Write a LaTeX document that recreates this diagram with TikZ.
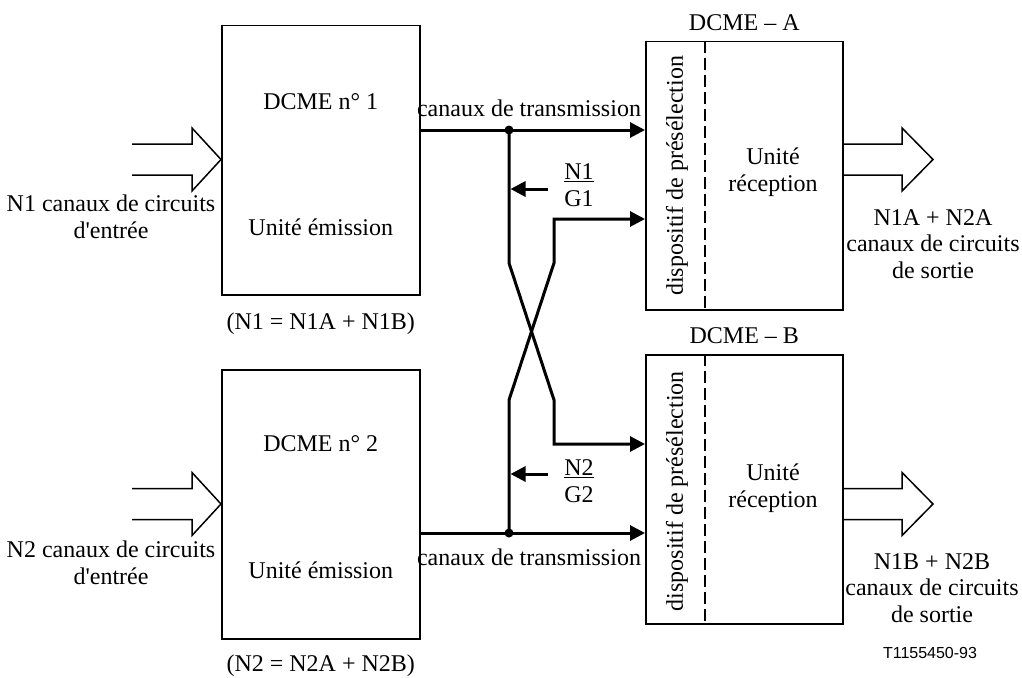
\documentclass[tikz,border=0pt]{standalone}
\usepackage{fontspec}
\setmainfont{Liberation Serif}[Ligatures=TeXOff]
\newfontfamily\figtagfont{Liberation Sans}
\usetikzlibrary{arrows.meta, positioning, calc}

\begin{document}
\begin{tikzpicture}[
  x=1pt, y=-1pt,
  font=\fontsize{24}{26.5}\selectfont,
  unit/.style={
    draw,
    line width=1.5pt,
    anchor=north west,
    minimum width=198pt,
    minimum height=269pt,
    inner sep=0pt
  },
  lbl/.style={align=center, inner sep=0pt},
  arr/.style={-{Triangle[length=15pt, width=15pt]}, line width=3pt},
  fat/.style={line width=1.5pt, miter limit=20},
  sep/.style={line width=2.5pt, dash pattern=on 12pt off 5pt},
  junction/.style={circle, fill, inner sep=0pt, minimum size=9pt},
]
\useasboundingbox (0,0) rectangle (1022,677);

% emission units
\node[unit] (emit1) at (221,25) {};
\node[unit] (emit2) at (221,369) {};
\node[lbl] (name1) at ($(emit1.north)+(0,77)$) {DCME n° 1};
\node[lbl] (role1) at ($(emit1.north)+(0,202)$) {Unité émission};
\node[lbl] (name2) at ($(emit2.north)+(0,75)$) {DCME n° 2};
\node[lbl] (role2) at ($(emit2.north)+(0,201)$) {Unité émission};
\node[lbl, below=17pt of emit1] (mix1) {(N1 = N1A + N1B)};
\node[lbl, below=15pt of emit2] (mix2) {(N2 = N2A + N2B)};

% reception units
\node[unit, minimum width=197pt, minimum height=268pt] (recvA) at (645,41) {};
\node[unit, minimum width=197pt] (recvB) at (645,354) {};
\node[lbl, above=10pt of recvA] (titleA) {DCME – A};
\node[lbl, above=10pt of recvB] (titleB) {DCME – B};
\draw[sep] ($(recvA.north west)+(60,0)$) -- ($(recvA.south west)+(60,0)$);
\draw[sep] ($(recvB.north west)+(60,0)$) -- ($(recvB.south west)+(60,0)$);
\node[lbl, rotate=90] (preselA) at ($(recvA.west)+(32,0)$) {dispositif de présélection};
\node[lbl, rotate=90] (preselB) at ($(recvB.west)+(32,2)$) {dispositif de présélection};
\node[lbl] (rxA) at (773,172) {Unité\\réception};
\node[lbl] (rxB) at (773,488) {Unité\\réception};

% wide arrows in and out
\foreach \xs/\xh/\xt/\ym in {132/192/221/159.5, 132/192/221/504,
                            842/902/933/159.5, 842/902/933/504}
  \draw[fat] (\xs,\ym-15.5) -- (\xh,\ym-15.5) -- (\xh,\ym-31.5) -- (\xt,\ym)
    -- (\xh,\ym+31.5) -- (\xh,\ym+15.5) -- (\xs,\ym+15.5);
\node[lbl] (src1) at (111,217) {N1 canaux de circuits\\d'entrée};
\node[lbl] (src2) at (111,563) {N2 canaux de circuits\\d'entrée};
\node[lbl] (sinkA) at (933,244) {N1A + N2A\\canaux de circuits\\de sortie};
\node[lbl] (sinkB) at (932,588) {N1B + N2B\\canaux de circuits\\de sortie};

% transmission channels
\node[junction] (tap1) at (509,130) {};
\node[junction] (tap2) at (509,533) {};
\coordinate (bend1) at (509,263);
\coordinate (bend2) at (554,263);
\coordinate (bend3) at (509,400);
\coordinate (bend4) at (554,400);
\node[lbl] (chan1) at (529,108) {canaux de transmission};
\node[lbl] (chan2) at (529,557) {canaux de transmission};

\draw[arr] (emit1.east |- tap1) -- (recvA.west |- tap1);
\draw[arr] (emit2.east |- tap2) -- (recvB.west |- tap2);
\draw[arr] (tap1.center) -- (bend1) -- (bend4) |- ($(recvB.north west)+(0,90)$);
\draw[arr] (tap2.center) -- (bend3) -- (bend2) |- ($(recvA.north west)+(0,178)$);

% N/G feeds
\node[lbl] (ratio1) at (579,185) {\underline{N1}\\G1};
\node[lbl] (ratio2) at (579,481) {\underline{N2}\\G2};
\coordinate (feed1) at (548,189);
\coordinate (feed2) at (548,474);
\draw[arr] (feed1) -- ($(feed1 -| tap1)+(1.5,0)$);
\draw[arr] (feed2) -- ($(feed2 -| tap2)+(1.5,0)$);

\node[lbl, font=\figtagfont\fontsize{16}{18}\selectfont] (tag) at (930,653) {T1155450-93};
\end{tikzpicture}
\end{document}
